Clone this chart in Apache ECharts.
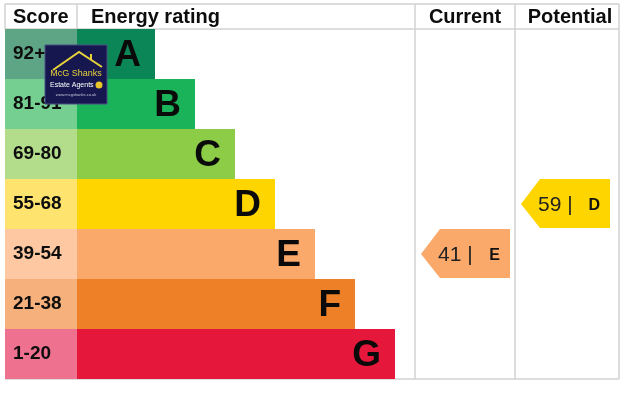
<!DOCTYPE html>
<html><head><meta charset="utf-8">
<script src="https://cdn.jsdelivr.net/npm/echarts@6/dist/echarts.min.js"></script>
<style>html,body{margin:0;padding:0;background:#fff}#c{width:639px;height:411px}</style>
</head><body><div id="c"></div>
<script>
// ---- data ----
const ratings = ['A','B','C','D','E','F','G'];
const scoreRanges = ['92+','81-91','69-80','55-68','39-54','21-38','1-20'];
const headers = ['Score','Energy rating','Current','Potential'];
const currentScore = 41, currentRating = 'E';
const potentialScore = 59, potentialRating = 'D';

// ---- styles ----
const barColors = ['#0b8656','#1bb35a','#8ccc47','#ffd500','#fba96a','#ee8027','#e5173b'];
const cellColors = ['#5ea585','#74cf91','#b3dc8b','#ffe36f','#fdc8a2','#f5b07c','#ef7190'];
const FONT = '"Liberation Sans", Arial, sans-serif';

const chart = echarts.init(document.getElementById('c'), null, {renderer:'canvas'});

// x axis in px-like units from grid left (grid left = 5)
const scoreColEnd = 72;          // score column width
function barEnd(i){ return 150 + 40*i; }

const bandData = ratings.map((r,i)=>[i, r]);

function renderBand(params, api){
  const i = api.value(0);
  const c0 = api.coord([0, ratings[i]]);
  const h = api.size([0,1])[1];
  const y0 = c0[1] - h/2;
  const xs = api.coord([scoreColEnd, ratings[i]])[0];
  const xe = api.coord([barEnd(i), ratings[i]])[0];
  return {type:'group', children:[
    {type:'rect', shape:{x:c0[0], y:y0, width:xs-c0[0], height:h}, style:{fill:cellColors[i]}},
    {type:'rect', shape:{x:xs, y:y0, width:xe-xs, height:h}, style:{fill:barColors[i]}},
    {type:'text', x:c0[0]+8, y:c0[1], style:{text:scoreRanges[i], fill:'#0d0d0d', font:'bold 19px '+FONT, textAlign:'left', textVerticalAlign:'middle'}},
    {type:'text', x:xe-14, y:c0[1]+2, style:{text:ratings[i], fill:'#0a0a0a', font:'bold 37px '+FONT, textAlign:'right', textVerticalAlign:'middle'}}
  ]};
}

const arrowData = [
  {col:0, score:currentScore, rating:currentRating},
  {col:1, score:potentialScore, rating:potentialRating}
];
const colStart = [410, 510];
function renderArrow(params, api){
  const d = arrowData[params.dataIndex];
  const i = ratings.indexOf(d.rating);
  const c = api.coord([colStart[d.col], d.rating]);
  const h = api.size([0,1])[1];
  const tip = c[0]+6, body = c[0]+25, end = c[0]+95;
  const yt = c[1]-h/2, yb = c[1]+h/2-1;
  return {type:'group', children:[
    {type:'polygon', shape:{points:[[tip,c[1]],[body,yt],[end,yt],[end,yb],[body,yb]]}, style:{fill:barColors[i]}},
    {type:'text', x:body-2, y:c[1]+1, style:{text:d.score+' |', fill:'#222', font:'21px '+FONT, textAlign:'left', textVerticalAlign:'middle'}},
    {type:'text', x:end-10, y:c[1]+2, style:{text:d.rating, fill:'#111', font:'bold 16px '+FONT, textAlign:'right', textVerticalAlign:'middle'}}
  ]};
}

const lineStyle = {stroke:'#d2d2d2', lineWidth:1.5};
const Z = 100;
const graphics = [
  {type:'line', shape:{x1:5,y1:4,x2:619,y2:4}, style:lineStyle},
  {type:'line', shape:{x1:5,y1:29,x2:619,y2:29}, style:lineStyle},
  {type:'line', shape:{x1:5,y1:379,x2:619,y2:379}, style:lineStyle},
  {type:'line', shape:{x1:5,y1:4,x2:5,y2:29}, style:lineStyle},
  {type:'line', shape:{x1:77,y1:4,x2:77,y2:29}, style:lineStyle},
  {type:'line', shape:{x1:415,y1:4,x2:415,y2:379}, style:lineStyle},
  {type:'line', shape:{x1:515,y1:4,x2:515,y2:379}, style:lineStyle},
  {type:'line', shape:{x1:619,y1:4,x2:619,y2:379}, style:lineStyle},
  {type:'text', x:13, y:17, style:{text:headers[0], font:'bold 20px '+FONT, fill:'#0d0d0d', textVerticalAlign:'middle'}},
  {type:'text', x:91, y:17, style:{text:headers[1], font:'bold 20px '+FONT, fill:'#0d0d0d', textVerticalAlign:'middle'}},
  {type:'text', x:465, y:17, style:{text:headers[2], font:'bold 20px '+FONT, fill:'#0d0d0d', textAlign:'center', textVerticalAlign:'middle'}},
  {type:'text', x:570, y:17, style:{text:headers[3], font:'bold 20px '+FONT, fill:'#0d0d0d', textAlign:'center', textVerticalAlign:'middle'}},
  // logo
  {type:'rect', z:Z, shape:{x:45,y:45,width:62,height:59}, style:{fill:'#15174e', stroke:'#4a4f86', lineWidth:1}},
  {type:'polyline', z:Z, shape:{points:[[53,70],[79,52],[102,67]]}, style:{stroke:'#e8d23a', lineWidth:2, fill:null}},
  {type:'line', z:Z, shape:{x1:91,y1:60,x2:91,y2:54}, style:{stroke:'#e8d23a', lineWidth:2}},
  {type:'text', z:Z, x:76, y:74, style:{text:'McG Shanks', font:'9px '+FONT, fill:'#e8d23a', textAlign:'center', textVerticalAlign:'middle'}},
  {type:'text', z:Z, x:50, y:85, style:{text:'Estate Agents', font:'7px '+FONT, fill:'#ffffff', textAlign:'left', textVerticalAlign:'middle'}},
  {type:'circle', z:Z, shape:{cx:99, cy:85, r:3.5}, style:{fill:'#e8c62a'}},
  {type:'text', z:Z, x:76, y:95, style:{text:'www.mcgshanks.co.uk', font:'4px '+FONT, fill:'#c8c8d8', textAlign:'center', textVerticalAlign:'middle'}}
];

chart.setOption({
  animation:false,
  backgroundColor:'#ffffff',
  grid:{left:5, right:20, top:29, bottom:32},
  xAxis:{type:'value', min:0, max:614, show:false},
  yAxis:{type:'category', data:ratings, inverse:true, show:false},
  series:[
    {type:'custom', renderItem:renderBand, data:bandData, encode:{x:0,y:1}},
    {type:'custom', renderItem:renderArrow, data:arrowData.map(d=>[colStart[d.col], d.rating])}
  ],
  graphic:graphics
});
</script></body></html>
